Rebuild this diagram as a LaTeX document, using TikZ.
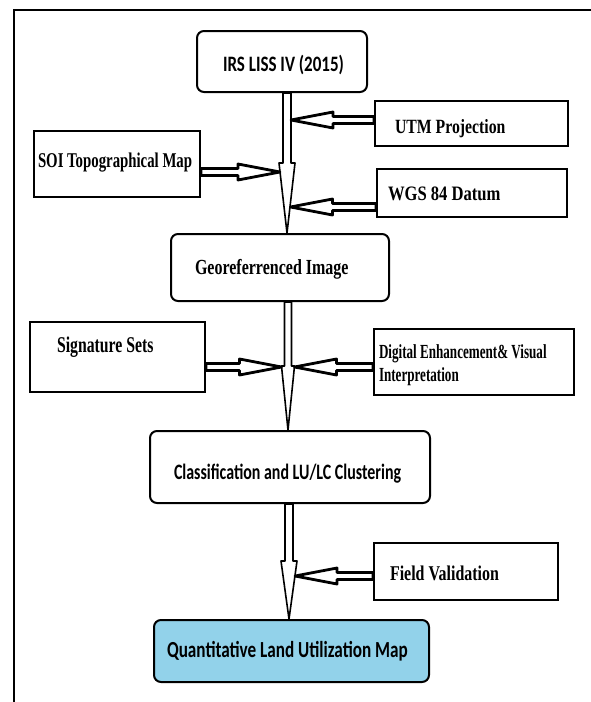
\documentclass[tikz,border=0pt]{standalone}
\usepackage{fontspec}
\usepackage{graphicx}
\usetikzlibrary{calc}
\newfontfamily\tnr{Liberation Serif}
\newfontfamily\calib{Carlito}
\definecolor{qblue}{RGB}{146,210,234}
% text placed with its left edge at (centre.x + #1) and baseline at (centre.y + #2, downwards)
\newcommand\tpos[3]{\raisebox{-#2}[0pt][0pt]{\makebox[0pt][l]{\hspace*{#1}#3}}}
\newcommand\ts[3]{\scalebox{#1}[1]{\fontsize{#2}{#2}\selectfont\bfseries #3}}
\newcommand\varrow[5]{%
  \draw[mainarrow] let \p1=(#1), \p2=(#2) in
    (\x1-#3pt,\y1) -- (\x1-#3pt,\y2+#5pt) -- (\x1-#4pt,\y2+#5pt) -- (\x2,\y2)
    -- (\x1+#4pt,\y2+#5pt) -- (\x1+#3pt,\y2+#5pt) -- (\x1+#3pt,\y1) -- cycle;}
\newcommand\harrow[2]{%
  \draw[sidearrow] let \p1=(#1), \p2=(#2), \n1={sign(\x2-\x1)*42} in
    (\x1,\y2+3.5pt) -- ({\x2-\n1*1pt},\y2+3.5pt) -- ({\x2-\n1*1pt},\y2+8pt) -- (\x2,\y2)
    -- ({\x2-\n1*1pt},\y2-8pt) -- ({\x2-\n1*1pt},\y2-3.5pt) -- (\x1,\y2-3.5pt) -- cycle;}
\tikzset{
  box/.style={draw, line width=2pt, fill=white, inner sep=0pt},
  rbox/.style={box, rounded corners=7pt},
  mainarrow/.style={draw, fill=white, line width=1.6pt, line join=round},
  sidearrow/.style={draw, fill=white, line width=2.8pt, line join=round},
}
\begin{document}
\begin{tikzpicture}[x=1pt,y=-1pt]
\fill[white] (0,0) rectangle (591,702);
\useasboundingbox (0,0) rectangle (591,702);
% frame
\draw[line width=2.5pt] (14,702) -- (14,10) -- (591,10);

% boxes
\node[rbox, minimum width=170, minimum height=61] (irs) at (282,61.5)
  {\tpos{-59pt}{9.5pt}{\calib\ts{0.773}{22}{IRS LISS IV (2015)}}};
\node[box, minimum width=193, minimum height=45] (utm) at (471.5,123.5)
  {\tpos{-76.5pt}{9.5pt}{\tnr\ts{0.78}{20.2}{UTM Projection}}};
\node[box, minimum width=166, minimum height=66] (soi) at (117,164)
  {\tpos{-79pt}{3pt}{\tnr\ts{0.705}{21}{SOI Topographical Map}}};
\node[box, minimum width=190, minimum height=48] (wgs) at (472,193)
  {\tpos{-84pt}{7pt}{\tnr\ts{0.81}{20.5}{WGS 84 Datum}}};
\node[rbox, minimum width=218, minimum height=67] (geo) at (280,267.5)
  {\tpos{-85pt}{6.5pt}{\tnr\ts{0.744}{21.5}{Georeferrenced Image}}};
\node[box, minimum width=175, minimum height=70] (sig) at (117.5,357)
  {\tpos{-60.5pt}{-4.5pt}{\tnr\ts{0.70}{22.5}{Signature Sets}}};
\node[box, minimum width=200, minimum height=66] (dig) at (474,362)
  {\tpos{-95pt}{-4pt}{\tnr\ts{0.655}{20}{Digital Enhancement\& Visual}}%
   \tpos{-95pt}{19pt}{\tnr\ts{0.655}{20}{Interpretation}}};
\node[rbox, minimum width=280, minimum height=72] (cls) at (290,467)
  {\tpos{-116pt}{12.5pt}{\calib\ts{0.725}{22}{Classification and LU/LC Clustering}}};
\node[box, minimum width=184, minimum height=57] (fv) at (466,571.5)
  {\tpos{-76pt}{8.5pt}{\tnr\ts{0.76}{21}{Field Validation}}};
\node[rbox, fill=qblue, minimum width=275, minimum height=62] (q) at (291.5,651)
  {\tpos{-124.5pt}{6.5pt}{\calib\ts{0.746}{23}{Quantitative Land Utilization Map}}};

% main flow arrows
\coordinate (ax1) at (287,0);
\coordinate (ax2) at (288,0);
\coordinate (ax3) at (289,0);
\varrow{irs.south -| ax1}{geo.north -| ax1}{4}{8}{70}
\varrow{geo.south -| ax2}{cls.north -| ax2}{3.5}{6.5}{64}
\varrow{cls.south -| ax3}{q.north -| ax3}{4}{8}{58}

% side arrows
\coordinate (t1) at (291,120);
\coordinate (t2) at (280,172);
\coordinate (t3) at (290.5,207);
\coordinate (t4) at (281.5,367);
\coordinate (t5) at (294.5,367);
\coordinate (t6) at (295,576);
\harrow{utm.west |- t1}{t1}
\harrow{soi.east |- t2}{t2}
\harrow{wgs.west |- t3}{t3}
\harrow{sig.east |- t4}{t4}
\harrow{dig.west |- t5}{t5}
\harrow{fv.west |- t6}{t6}
\end{tikzpicture}
\end{document}
